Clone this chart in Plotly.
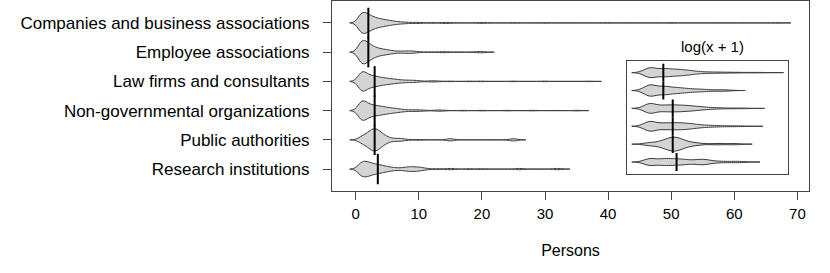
import numpy as np
import plotly.graph_objects as go

# Categories (top to bottom as drawn)
categories = [
    "Companies and business associations",
    "Employee associations",
    "Law firms and consultants",
    "Non-governmental organizations",
    "Public authorities",
    "Research institutions",
]

# Persons per organisation: distinct values and how often each occurs
companies_values = [1, 2, 3, 4, 5, 6, 7, 8, 9, 10, 12, 14, 15, 20, 25, 30, 40, 50, 67]
companies_counts = [36, 24, 15, 11, 8, 5, 3, 2, 1, 2, 1, 2, 1, 2, 1, 1, 1, 1, 1]

employee_values = [1, 2, 3, 4, 5, 6, 7, 8, 9, 10, 12, 14, 16, 19, 20]
employee_counts = [36, 22, 12, 8, 6, 3, 2, 3, 3, 1, 1, 2, 1, 1, 2]

law_values = [1, 2, 3, 4, 5, 6, 7, 8, 9, 10, 12, 13, 15, 18, 20, 25, 30, 37]
law_counts = [33, 16, 14, 10, 8, 6, 4, 3, 3, 2, 2, 1, 1, 1, 1, 1, 1, 1]

ngo_values = [1, 2, 3, 4, 5, 6, 7, 8, 9, 10, 11, 13, 14, 17, 20, 24, 28, 35]
ngo_counts = [32, 16, 13, 11, 8, 6, 4, 2, 2, 2, 1, 2, 1, 1, 1, 1, 1, 1]

public_values = [1, 2, 3, 4, 5, 6, 7, 8, 10, 15, 25]
public_counts = [7, 13, 23, 13, 5, 2, 3, 1, 1, 3, 3]

research_values = [1, 2, 3, 4, 5, 6, 7, 8, 9, 10, 11, 13, 15, 18, 20, 26, 32]
research_counts = [18, 14, 10, 8, 5, 3, 2, 4, 5, 4, 2, 1, 2, 1, 1, 2, 2]

value_lists = [companies_values, employee_values, law_values, ngo_values, public_values, research_values]
count_lists = [companies_counts, employee_counts, law_counts, ngo_counts, public_counts, research_counts]

x_ticks = [0, 10, 20, 30, 40, 50, 60, 70]

# ---- style ----
FONT = "Liberation Sans, Arial, Helvetica, sans-serif"
FILL = "#d4d4d4"
EDGE = "#3a3a3a"
BW_MAIN = 0.65
BW_LOG = 0.187
MAX_W_MAIN = 0.8
MAX_W_LOG = 0.78
n = len(categories)


def kde_peak(d, bw):
    """Peak of the Gaussian kernel density estimate (same kernel as the violins)."""
    grid = np.linspace(d.min() - 3 * bw, d.max() + 3 * bw, 2000)
    dens = np.exp(-0.5 * ((grid[:, None] - d[None, :]) / bw) ** 2).sum(axis=1)
    return dens.max() / (len(d) * bw)


datasets = [np.repeat(np.array(v, dtype=float), c) for v, c in zip(value_lists, count_lists)]
logsets = [np.log1p(d) for d in datasets]
peaks_main = [kde_peak(d, BW_MAIN) for d in datasets]
peaks_log = [kde_peak(d, BW_LOG) for d in logsets]

fig = go.Figure()

for i, cat in enumerate(categories):
    data = datasets[i]
    ldata = logsets[i]
    pos = n - i
    med = float(np.median(data))
    # main violin (widths on a common density scale)
    fig.add_trace(go.Violin(
        x=data, y0=pos, orientation="h", name=cat,
        side="both", width=MAX_W_MAIN * peaks_main[i] / max(peaks_main),
        scalemode="width", bandwidth=BW_MAIN, spanmode="manual",
        span=[data.min() - 3 * BW_MAIN, data.max() + 3 * BW_MAIN],
        points=False, box_visible=False, meanline_visible=False,
        fillcolor=FILL, line=dict(color=EDGE, width=1),
        showlegend=False, hoverinfo="skip", xaxis="x", yaxis="y",
    ))
    fig.add_trace(go.Scatter(
        x=[med, med], y=[pos - 0.52, pos + 0.52], mode="lines",
        line=dict(color="black", width=2), showlegend=False, hoverinfo="skip",
        xaxis="x", yaxis="y",
    ))
    # inset violin on log(x + 1)
    fig.add_trace(go.Violin(
        x=ldata, y0=pos, orientation="h", name=cat,
        side="both", width=MAX_W_LOG * peaks_log[i] / max(peaks_log),
        scalemode="width", bandwidth=BW_LOG, spanmode="manual",
        span=[ldata.min() - 3 * BW_LOG, ldata.max() + 3 * BW_LOG],
        points=False, box_visible=False, meanline_visible=False,
        fillcolor=FILL, line=dict(color=EDGE, width=1),
        showlegend=False, hoverinfo="skip", xaxis="x2", yaxis="y2",
    ))
    lmed = float(np.log1p(med))
    fig.add_trace(go.Scatter(
        x=[lmed, lmed], y=[pos - 0.5, pos + 0.5], mode="lines",
        line=dict(color="black", width=2), showlegend=False, hoverinfo="skip",
        xaxis="x2", yaxis="y2",
    ))

fig.update_layout(
    width=830, height=273,
    margin=dict(l=332, r=21, t=1, b=82),
    paper_bgcolor="white", plot_bgcolor="white",
    violinmode="overlay", violingap=0,
    font=dict(family=FONT, color="black"),
    xaxis=dict(
        domain=[0, 1], range=[-3.76, 71.84], tickvals=x_ticks,
        ticks="outside", ticklen=8, tickcolor="#444", tickwidth=1,
        tickfont=dict(size=15), ticklabelstandoff=1,
        showgrid=False, zeroline=False,
        showline=True, linecolor="#444", linewidth=1, mirror=True,
        title=dict(text="Persons", font=dict(size=16), standoff=23),
    ),
    yaxis=dict(
        domain=[0, 1], range=[0.25, 6.75],
        tickvals=list(range(n, 0, -1)), ticktext=categories,
        ticks="outside", ticklen=8, tickcolor="#444", tickwidth=1,
        tickfont=dict(size=17), ticklabelstandoff=10,
        showgrid=False, zeroline=False,
        showline=True, linecolor="#444", linewidth=1, mirror=True,
    ),
    xaxis2=dict(
        domain=[0.618, 0.957], range=[-0.02, 4.93], anchor="y2",
        showticklabels=False, ticks="", showgrid=False, zeroline=False,
        showline=True, linecolor="#444", linewidth=1, mirror=True,
    ),
    yaxis2=dict(
        domain=[0.0895, 0.686], range=[0.33, 6.67], anchor="x2",
        showticklabels=False, ticks="", showgrid=False, zeroline=False,
        showline=True, linecolor="#444", linewidth=1, mirror=True,
    ),
    annotations=[dict(
        text="log(x + 1)", xref="paper", yref="paper",
        x=(0.618 + 0.957) / 2, y=0.686, yshift=4, xshift=5,
        xanchor="center", yanchor="bottom", showarrow=False,
        font=dict(size=15, family=FONT, color="black"),
    )],
)

fig.write_html("out.html", config={"displayModeBar": False},
               post_script="document.body.style.margin='0';")
